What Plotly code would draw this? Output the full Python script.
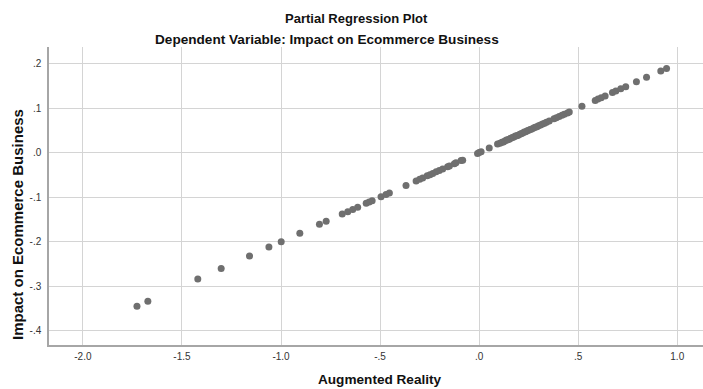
import plotly.graph_objects as go

# Partial regression residuals: Augmented Reality (x) vs Impact on Ecommerce Business (y)
augmented_reality = [
    -1.727, -1.672, -1.420, -1.302, -1.159, -1.061, -0.999, -0.905, -0.806, -0.772,
    -0.691, -0.663, -0.638, -0.613, -0.570, -0.555, -0.540, -0.495, -0.470, -0.453,
    -0.369, -0.318, -0.300, -0.285, -0.262, -0.248, -0.234, -0.217, -0.201, -0.184,
    -0.159, -0.150, -0.125, -0.117, -0.091, -0.083, -0.008, 0.000, 0.010, 0.051,
    0.093, 0.105, 0.115, 0.122, 0.130, 0.138, 0.145, 0.152, 0.160, 0.168,
    0.175, 0.183, 0.190, 0.197, 0.205, 0.212, 0.220, 0.228, 0.235, 0.243,
    0.250, 0.258, 0.266, 0.275, 0.283, 0.292, 0.300, 0.310, 0.320, 0.330,
    0.340, 0.354, 0.378, 0.390, 0.404, 0.418, 0.430, 0.446, 0.455, 0.519,
    0.586, 0.600, 0.616, 0.636, 0.673, 0.690, 0.715, 0.740, 0.794, 0.845,
    0.917, 0.946,
]
impact_ecommerce = [
    -0.345, -0.334, -0.284, -0.260, -0.232, -0.212, -0.200, -0.181, -0.161, -0.154,
    -0.138, -0.133, -0.128, -0.123, -0.114, -0.111, -0.108, -0.099, -0.094, -0.091,
    -0.074, -0.064, -0.060, -0.057, -0.052, -0.050, -0.047, -0.043, -0.040, -0.037,
    -0.032, -0.030, -0.025, -0.023, -0.018, -0.017, -0.002, 0.000, 0.002, 0.010,
    0.019, 0.021, 0.023, 0.024, 0.026, 0.028, 0.029, 0.030, 0.032, 0.034,
    0.035, 0.037, 0.038, 0.039, 0.041, 0.042, 0.044, 0.046, 0.047, 0.049,
    0.050, 0.052, 0.053, 0.055, 0.057, 0.058, 0.060, 0.062, 0.064, 0.066,
    0.068, 0.071, 0.076, 0.078, 0.081, 0.084, 0.086, 0.089, 0.091, 0.104,
    0.117, 0.120, 0.123, 0.127, 0.135, 0.138, 0.143, 0.148, 0.159, 0.169,
    0.183, 0.189,
]

x_tick_vals = [-2.0, -1.5, -1.0, -0.5, 0.0, 0.5, 1.0]
x_tick_text = ["-2.0", "-1.5", "-1.0", "-.5", ".0", ".5", "1.0"]
y_tick_vals = [0.2, 0.1, 0.0, -0.1, -0.2, -0.3, -0.4]
y_tick_text = [".2", ".1", ".0", "-.1", "-.2", "-.3", "-.4"]

FONT = "Liberation Sans, Arial, sans-serif"
GRID = "#d4d4d4"
AXIS = "#a6a6a6"

fig = go.Figure()
fig.add_trace(go.Scatter(
    x=augmented_reality,
    y=impact_ecommerce,
    mode="markers",
    marker=dict(color="#6f6f6f", size=7, line=dict(width=0)),
    hoverinfo="x+y",
    showlegend=False,
))

fig.update_layout(
    width=703,
    height=389,
    margin=dict(l=49, r=0, t=47, b=44),
    paper_bgcolor="white",
    plot_bgcolor="white",
    font=dict(family=FONT, color="#222222"),
    xaxis=dict(
        range=[-2.171, 1.13],
        tickvals=x_tick_vals,
        ticktext=x_tick_text,
        tickfont=dict(size=10, color="#333333"),
        showgrid=True, gridcolor=GRID, gridwidth=1,
        zeroline=False,
        showline=True, linecolor=AXIS, linewidth=1.5,
        ticks="", ticklabelstandoff=1,
    ),
    yaxis=dict(
        range=[-0.432, 0.237],
        tickvals=y_tick_vals,
        ticktext=y_tick_text,
        tickfont=dict(size=10, color="#333333"),
        showgrid=True, gridcolor=GRID, gridwidth=1,
        zeroline=False,
        showline=True, linecolor=AXIS, linewidth=1.5,
        ticks="", ticklabelstandoff=4,
    ),
    annotations=[
        dict(text="<b>Partial Regression Plot</b>", x=356, y=389 - 18,
             xref="paper", yref="paper", showarrow=False,
             font=dict(size=13, family=FONT, color="#111111")),
        dict(text="<b>Dependent Variable: Impact on Ecommerce Business</b>",
             x=327, y=389 - 39, xref="paper", yref="paper", showarrow=False,
             font=dict(size=13.6, family=FONT, color="#111111")),
        dict(text="<b>Augmented Reality</b>", x=380, y=389 - 379,
             xref="paper", yref="paper", showarrow=False,
             font=dict(size=13.6, family=FONT, color="#111111")),
        dict(text="<b>Impact on Ecommerce Business</b>", x=17, y=389 - 225,
             xref="paper", yref="paper", showarrow=False, textangle=-90,
             font=dict(size=15, family=FONT, color="#111111")),
    ],
)

# Annotation positions above are given in pixels; convert to paper coordinates.
plot_w = 703 - 49 - 0
plot_h = 389 - 47 - 44
for ann in fig.layout.annotations:
    px, py = ann.x, ann.y
    ann.x = (px - 49) / plot_w
    ann.y = (py - 44) / plot_h
    ann.xanchor = "center"
    ann.yanchor = "middle"

fig.write_html("out.html")
